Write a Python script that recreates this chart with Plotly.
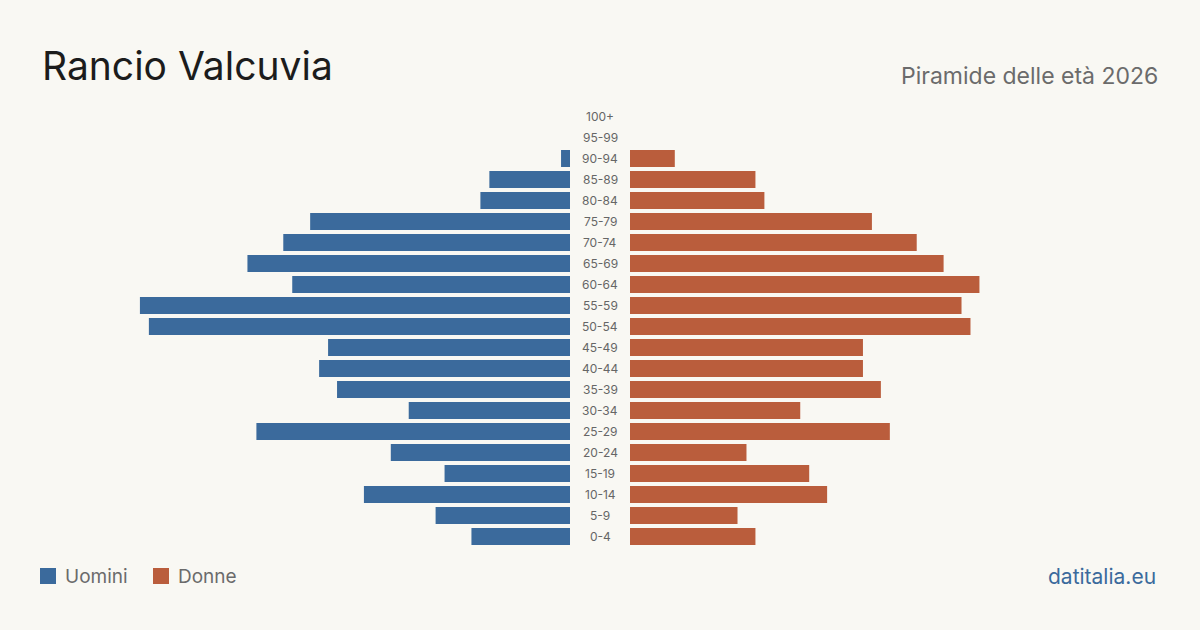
import plotly.graph_objects as go

ages = ["0-4", "5-9", "10-14", "15-19", "20-24", "25-29", "30-34", "35-39", "40-44", "45-49",
        "50-54", "55-59", "60-64", "65-69", "70-74", "75-79", "80-84", "85-89", "90-94", "95-99", "100+"]
men = [11, 15, 23, 14, 20, 35, 18, 26, 28, 27, 47, 48, 31, 36, 32, 29, 10, 9, 1, 0, 0]
women = [14, 12, 22, 20, 13, 29, 19, 28, 26, 26, 38, 37, 39, 35, 32, 27, 15, 14, 5, 0, 0]

title = "Rancio Valcuvia"
subtitle = "Piramide delle età 2026"
legend_names = ["Uomini", "Donne"]
source = "datitalia.eu"

C_MEN = "#3b6a9c"
C_WOMEN = "#ba5d3c"
BG = "#f9f8f3"
FONT = "Inter, 'Open Sans', sans-serif"

W, H = 1200, 630
px_per_unit = 8.96
xmax = 570 / px_per_unit

fig = go.Figure()
fig.add_trace(go.Bar(y=ages, x=men, orientation="h", marker_color=C_MEN, name=legend_names[0],
                     marker_line_width=0, xaxis="x", yaxis="y", showlegend=False))
fig.add_trace(go.Bar(y=ages, x=women, orientation="h", marker_color=C_WOMEN, name=legend_names[1],
                     marker_line_width=0, xaxis="x2", yaxis="y", showlegend=False))

annotations = []
for a in ages:
    annotations.append(dict(x=0.5, y=a, xref="paper", yref="y", text=a, showarrow=False,
                            font=dict(family=FONT, size=12, color="#666666"),
                            xanchor="center", yanchor="middle"))

annotations.append(dict(x=40 / W, y=1 - 66 / H, xref="paper", yref="paper", text=title,
                        showarrow=False, xanchor="left", yanchor="middle",
                        font=dict(family=FONT, size=39, color="#1c1c1c")))
annotations.append(dict(x=1160 / W, y=1 - 76 / H, xref="paper", yref="paper", text=subtitle,
                        showarrow=False, xanchor="right", yanchor="middle",
                        font=dict(family=FONT, size=23, color="#6b6b6b")))
annotations.append(dict(x=63 / W, y=1 - 576 / H, xref="paper", yref="paper", text=legend_names[0],
                        showarrow=False, xanchor="left", yanchor="middle",
                        font=dict(family=FONT, size=19, color="#6b6b6b")))
annotations.append(dict(x=176 / W, y=1 - 576 / H, xref="paper", yref="paper", text=legend_names[1],
                        showarrow=False, xanchor="left", yanchor="middle",
                        font=dict(family=FONT, size=19, color="#6b6b6b")))
annotations.append(dict(x=1158 / W, y=1 - 576 / H, xref="paper", yref="paper", text=source,
                        showarrow=False, xanchor="right", yanchor="middle",
                        font=dict(family=FONT, size=21, color=C_MEN)))

shapes = [
    dict(type="rect", xref="paper", yref="paper", x0=40 / W, x1=56 / W, y0=1 - 584 / H, y1=1 - 568 / H,
         fillcolor=C_MEN, line=dict(width=0)),
    dict(type="rect", xref="paper", yref="paper", x0=153 / W, x1=169 / W, y0=1 - 584 / H, y1=1 - 568 / H,
         fillcolor=C_WOMEN, line=dict(width=0)),
]

axis_common = dict(visible=False, fixedrange=True, showgrid=False, zeroline=False, showline=False)

fig.update_layout(
    width=W, height=H,
    margin=dict(l=0, r=0, t=0, b=0),
    paper_bgcolor=BG, plot_bgcolor=BG,
    bargap=0.19,
    xaxis=dict(domain=[0, 570 / W], range=[xmax, 0], **axis_common),
    xaxis2=dict(domain=[630 / W, 1], range=[0, xmax], **axis_common),
    yaxis=dict(domain=[1 - 547 / H, 1 - 106 / H], categoryorder="array", categoryarray=ages,
               range=[-0.5, len(ages) - 0.5], **axis_common),
    annotations=annotations,
    shapes=shapes,
    showlegend=False,
)

fig.write_html("out.html", config={"displayModeBar": False})
